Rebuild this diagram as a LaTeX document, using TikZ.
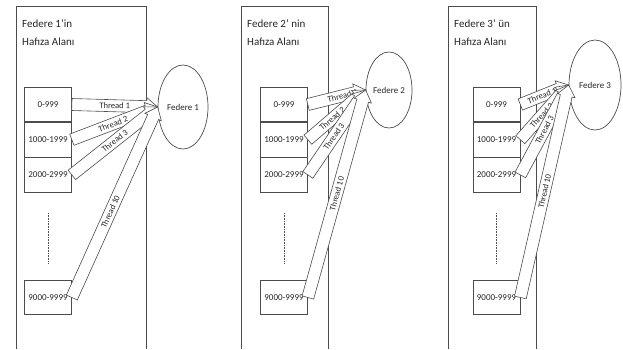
\documentclass[tikz,border=0pt]{standalone}
\usepackage{fontspec}
\setmainfont{Carlito}
\usetikzlibrary{calc, positioning, shapes.geometric}

\tikzset{
  mem/.style={draw=black!70, line width=0.7pt, minimum width=47pt, minimum height=34.5pt,
    inner sep=0pt, text=black!85, font=\fontsize{9}{10}\selectfont},
  fed/.style={draw=black!70, line width=0.7pt, ellipse, inner sep=0pt,
    text=black!85, font=\fontsize{9}{10}\selectfont},
  thr/.style={draw=black!70, line width=0.6pt, fill=white, line join=miter},
}

% hollow block arrow: from, to, text, text position
\newcommand{\threadarrow}[4]{%
  \coordinate (hb) at ($(#2)!11pt!(#1)$);
  \draw[thr] ($(#1)!6pt!90:(#2)$) -- ($(hb)!6pt!-90:(#1)$) -- ($(hb)!9pt!-90:(#1)$)
    -- (#2) -- ($(hb)!9pt!90:(#1)$) -- ($(hb)!6pt!90:(#1)$) -- ($(#1)!6pt!-90:(#2)$) -- cycle;
  \path (#1) -- (#2) node[pos=#4, sloped, inner sep=0pt, text=black!85,
    font=\fontsize{8.5}{9}\selectfont] {#3};
}

\begin{document}
\begin{tikzpicture}[x=1pt, y=-1pt]
  \useasboundingbox (0,0) rectangle (623,349);
  \foreach \p/\L/\R/\bx/\ex/\ey/\rx/\ry/\pa/\pb/\pc/\pd/\title in {
      1/16/146/48/183/107/25/42/0.5/0.48/0.5/0.45/{Federe 1'in},
      2/241/328/284/389/90/23/38/0.6/0.42/0.45/0.5/{Federe 2' nin},
      3/448/536/496.5/595/85/26/45/0.45/0.44/0.5/0.5/{Federe 3' ün}} {
    % memory area, open at the bottom
    \draw[black!70, line width=0.7pt] (\L,349) -- (\L,6) -- (\R,6) -- (\R,349);
    \node[anchor=north west, align=left, inner sep=0pt, text=black!85,
      font=\fontsize{11}{18}\selectfont] (t\p) at (\L+6,20) {\title\\Hafıza Alanı};
    % address blocks
    \node[mem] (a\p) at (\bx,104.5) {0-999};
    \node[mem, below=0pt of a\p] (b\p) {1000-1999};
    \node[mem, below=0pt of b\p] (c\p) {2000-2999};
    \node[mem] (d\p) at (\bx,297.5) {9000-9999};
    \draw[black!70, line width=0.7pt, dash pattern=on 0.8pt off 0.8pt] (\bx,213) -- (\bx,263);
    % federate
    \node[fed, minimum width=2*\rx, minimum height=2*\ry] (f\p) at (\ex,\ey) {Federe \p};
    % threads
    \threadarrow{a\p.east}{f\p.west}{Thread 1}{\pa}
    \threadarrow{b\p.east}{f\p.west}{Thread 2}{\pb}
    \threadarrow{c\p.east}{f\p.west}{Thread 3}{\pc}
    \threadarrow{d\p.east}{f\p.west}{Thread 10}{\pd}
  }
\end{tikzpicture}
\end{document}
